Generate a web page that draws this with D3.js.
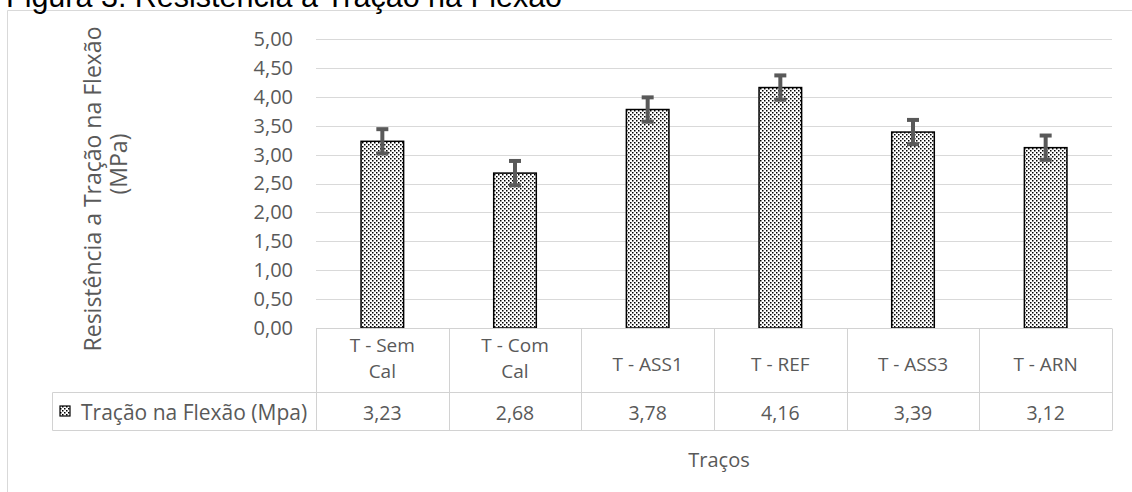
<!DOCTYPE html>
<html>
<head>
<meta charset="utf-8">
<script src="https://cdn.jsdelivr.net/npm/d3@7"></script>
<style>
  html, body { margin: 0; padding: 0; background: #fff; }
  svg { display: block; }
</style>
</head>
<body>
<svg id="chart" width="1132" height="492"></svg>
<script>
// ---- data ----
const categories = ["T - Sem Cal", "T - Com Cal", "T - ASS1", "T - REF", "T - ASS3", "T - ARN"];
const values = [3.23, 2.68, 3.78, 4.16, 3.39, 3.12];
const errors = [0.21, 0.21, 0.21, 0.21, 0.21, 0.21];
const yTicks = [0, 0.5, 1, 1.5, 2, 2.5, 3, 3.5, 4, 4.5, 5];
const seriesName = "Tração na Flexão (Mpa)";
const titleText = "Figura 3: Resistência a Tração na Flexão";
const yTitleLines = ["Resistência a Tração na Flexão", "(MPa)"];
const xTitle = "Traços";

// ---- setup ----
const svg = d3.select("#chart");
const W = 1132, H = 492;
const FONT = "'Open Sans', 'Noto Sans', sans-serif";
const TXT = "#595959";
const GRID = "#d9d9d9";
const TABLE = "#d2d2d2";

const locale = d3.formatLocale({decimal: ",", thousands: ".", grouping: [3], currency: ["", ""]});
const fmt = locale.format(".2f");

const plotLeft = 316, plotRight = 1112;
const y = d3.scaleLinear().domain([0, 5]).range([328, 39]);
const x = d3.scaleBand().domain(categories).range([plotLeft, plotRight])
  .paddingInner(0.679).paddingOuter(0.3395);
const col = d3.scaleBand().domain(categories).range([plotLeft, plotRight]);

svg.append("rect").attr("width", W).attr("height", H).attr("fill", "#fff");

// pattern
const defs = svg.append("defs");
const pat = defs.append("pattern").attr("id", "dots")
  .attr("patternUnits", "userSpaceOnUse").attr("width", 4).attr("height", 4);
pat.append("rect").attr("width", 4).attr("height", 4).attr("fill", "#fff");
pat.append("rect").attr("x", 0).attr("y", 0).attr("width", 1.5).attr("height", 1.5).attr("fill", "#000");
pat.append("rect").attr("x", 2).attr("y", 2).attr("width", 1.5).attr("height", 1.5).attr("fill", "#000");

// outer frame
svg.append("path").attr("d", `M7.5,${H} V10.5 H${W}`)
  .attr("fill", "none").attr("stroke", GRID).attr("stroke-width", 1);

// title (cut at top)
svg.append("text").attr("x", 6).attr("y", 7)
  .attr("font-family", "'Liberation Sans', Arial, sans-serif")
  .attr("font-size", 30.5).attr("fill", "#000").text(titleText);

// gridlines
svg.append("g").selectAll("line").data(yTicks.filter(d => d > 0)).join("line")
  .attr("x1", plotLeft).attr("x2", plotRight)
  .attr("y1", d => Math.round(y(d)) + 0.5).attr("y2", d => Math.round(y(d)) + 0.5)
  .attr("stroke", GRID).attr("stroke-width", 1);

// y axis labels
const yAxis = svg.append("g").attr("transform", `translate(${plotLeft},0)`)
  .call(d3.axisLeft(y).tickValues(yTicks).tickFormat(fmt).tickSize(0).tickPadding(23));
yAxis.select(".domain").remove();
yAxis.selectAll("text").attr("font-family", FONT).attr("font-size", 20).attr("fill", TXT);

// bars
svg.append("g").selectAll("rect").data(values).join("rect")
  .attr("x", (d, i) => x(categories[i]))
  .attr("y", d => y(d))
  .attr("width", x.bandwidth())
  .attr("height", d => y(0) - y(d))
  .attr("fill", "url(#dots)").attr("stroke", "#000").attr("stroke-width", 1.5);

// error bars
const eg = svg.append("g").attr("stroke", "#595959").attr("stroke-width", 4).attr("fill", "none");
values.forEach((v, i) => {
  const cx = x(categories[i]) + x.bandwidth() / 2;
  const e = errors[i];
  eg.append("line").attr("x1", cx).attr("x2", cx).attr("y1", y(v + e)).attr("y2", y(v - e));
  eg.append("line").attr("x1", cx - 6).attr("x2", cx + 6).attr("y1", y(v + e)).attr("y2", y(v + e));
  eg.append("line").attr("x1", cx - 6).attr("x2", cx + 6).attr("y1", y(v - e)).attr("y2", y(v - e));
});

// data table
const tTop = 328.5, tMid = 392.5, tBot = 430.5, legLeft = 52.5;
const tg = svg.append("g").attr("stroke", TABLE).attr("stroke-width", 1).attr("fill", "none");
tg.append("line").attr("x1", plotLeft).attr("x2", plotRight).attr("y1", tTop).attr("y2", tTop);
tg.append("line").attr("x1", legLeft).attr("x2", plotRight).attr("y1", tMid).attr("y2", tMid);
tg.append("line").attr("x1", legLeft).attr("x2", plotRight).attr("y1", tBot).attr("y2", tBot);
tg.append("line").attr("x1", legLeft).attr("x2", legLeft).attr("y1", tMid).attr("y2", tBot);
const colEdges = categories.map(c => col(c)).concat([plotRight]);
tg.selectAll("line.v").data(colEdges).join("line").attr("class", "v")
  .attr("x1", d => Math.round(d) + 0.5).attr("x2", d => Math.round(d) + 0.5)
  .attr("y1", tTop).attr("y2", tBot);

// category labels
const cg = svg.append("g").attr("font-family", FONT).attr("font-size", 19)
  .attr("fill", TXT).attr("text-anchor", "middle");
categories.forEach(c => {
  const parts = c.split(" ");
  const lines = parts.length > 3 ? [parts.slice(0, -1).join(" "), parts[parts.length - 1]] : [c];
  const cx = col(c) + col.bandwidth() / 2;
  if (lines.length === 2) {
    cg.append("text").attr("x", cx).attr("y", 352).text(lines[0]);
    cg.append("text").attr("x", cx).attr("y", 378).text(lines[1]);
  } else {
    cg.append("text").attr("x", cx).attr("y", 371).text(lines[0]);
  }
});

// values row
cg.selectAll("text.val").data(values).join("text").attr("class", "val")
  .attr("x", (d, i) => col(categories[i]) + col.bandwidth() / 2)
  .attr("y", 420).attr("font-size", 19.5).text(d => fmt(d));

// legend key + name
svg.append("rect").attr("x", 60).attr("y", 406).attr("width", 10).attr("height", 10)
  .attr("fill", "url(#dots)").attr("stroke", "#000").attr("stroke-width", 1.2);
svg.append("text").attr("x", 81).attr("y", 420).attr("font-family", FONT)
  .attr("font-size", 21).attr("fill", TXT).text(seriesName);

// y title
const yt = svg.append("g").attr("font-family", FONT).attr("font-size", 23)
  .attr("fill", TXT).attr("text-anchor", "middle");
yt.append("text").attr("transform", "translate(101,189) rotate(-90)").text(yTitleLines[0]);
yt.append("text").attr("transform", "translate(127,164) rotate(-90)").text(yTitleLines[1]);

// x title
svg.append("text").attr("x", 719).attr("y", 467).attr("text-anchor", "middle")
  .attr("font-family", FONT).attr("font-size", 20).attr("fill", TXT).text(xTitle);
</script>
</body>
</html>
